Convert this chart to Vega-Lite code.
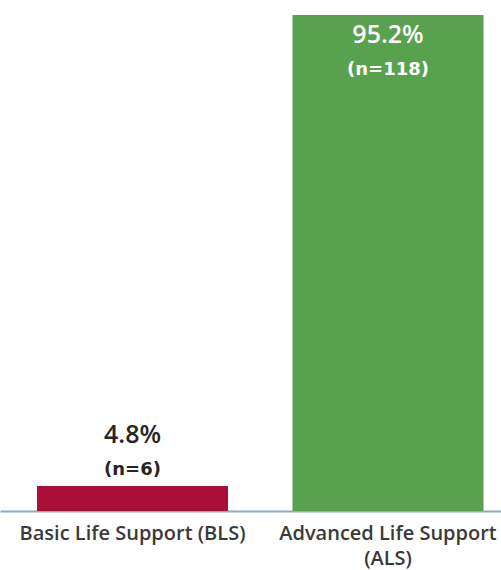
{
  "$schema": "https://vega.github.io/schema/vega-lite/v6.json",
  "width": 501,
  "height": 511,
  "autosize": {"type": "none"},
  "padding": {"left": 0, "top": 0, "right": 0, "bottom": 59},
  "background": "white",
  "config": {"view": {"stroke": null}},
  "data": {
    "values": [
      {"category": "Basic Life Support (BLS)", "pct": 4.8, "n": 6},
      {"category": "Advanced Life Support (ALS)", "pct": 95.2, "n": 118}
    ]
  },
  "encoding": {
    "x": {
      "field": "category",
      "type": "nominal",
      "sort": null,
      "scale": {"paddingInner": 0.2524, "paddingOuter": 0.1067, "align": 0.679, "round": false},
      "axis": {
        "title": null,
        "ticks": false,
        "tickSize": 0,
        "grid": false,
        "labelAngle": 0,
        "domainColor": "#8EAAC4",
        "domainWidth": 2,
        "labelFont": "Open Sans",
        "labelFontSize": 20,
        "labelFontWeight": 600,
        "labelColor": "#3A3A3A",
        "labelPadding": 12,
        "labelLineHeight": 25,
        "labelLimit": 300,
        "labelExpr": "datum.value == 'Advanced Life Support (ALS)' ? ['Advanced Life Support', '(ALS)'] : datum.value"
      }
    },
    "y": {
      "field": "pct",
      "type": "quantitative",
      "scale": {"domain": [0, 98.1], "nice": false},
      "axis": null
    }
  },
  "layer": [
    {
      "mark": {"type": "bar"},
      "encoding": {
        "color": {
          "field": "category",
          "type": "nominal",
          "scale": {"domain": ["Basic Life Support (BLS)", "Advanced Life Support (ALS)"], "range": ["#A8103A", "#58A14E"]},
          "legend": null
        }
      }
    },
    {
      "transform": [{"filter": "datum.category == 'Basic Life Support (BLS)'"}],
      "mark": {"type": "text", "baseline": "alphabetic", "dy": -43, "font": "Open Sans", "fontWeight": 600, "fontSize": 25, "color": "#262626"},
      "encoding": {"text": {"value": {"expr": "format(datum.pct, '.1f') + '%'"}}}
    },
    {
      "transform": [{"filter": "datum.category == 'Basic Life Support (BLS)'"}],
      "mark": {"type": "text", "baseline": "alphabetic", "dy": -11, "font": "DejaVu Sans", "fontWeight": "bold", "fontSize": 18, "color": "#262626"},
      "encoding": {"text": {"value": {"expr": "'(n=' + datum.n + ')'"}}}
    },
    {
      "transform": [{"filter": "datum.category == 'Advanced Life Support (ALS)'"}],
      "mark": {"type": "text", "baseline": "alphabetic", "dy": 28, "font": "Open Sans", "fontWeight": 600, "fontSize": 25, "color": "white"},
      "encoding": {"text": {"value": {"expr": "format(datum.pct, '.1f') + '%'"}}}
    },
    {
      "transform": [{"filter": "datum.category == 'Advanced Life Support (ALS)'"}],
      "mark": {"type": "text", "baseline": "alphabetic", "dy": 60, "font": "DejaVu Sans", "fontWeight": "bold", "fontSize": 18, "color": "white"},
      "encoding": {"text": {"value": {"expr": "'(n=' + datum.n + ')'"}}}
    }
  ]
}
